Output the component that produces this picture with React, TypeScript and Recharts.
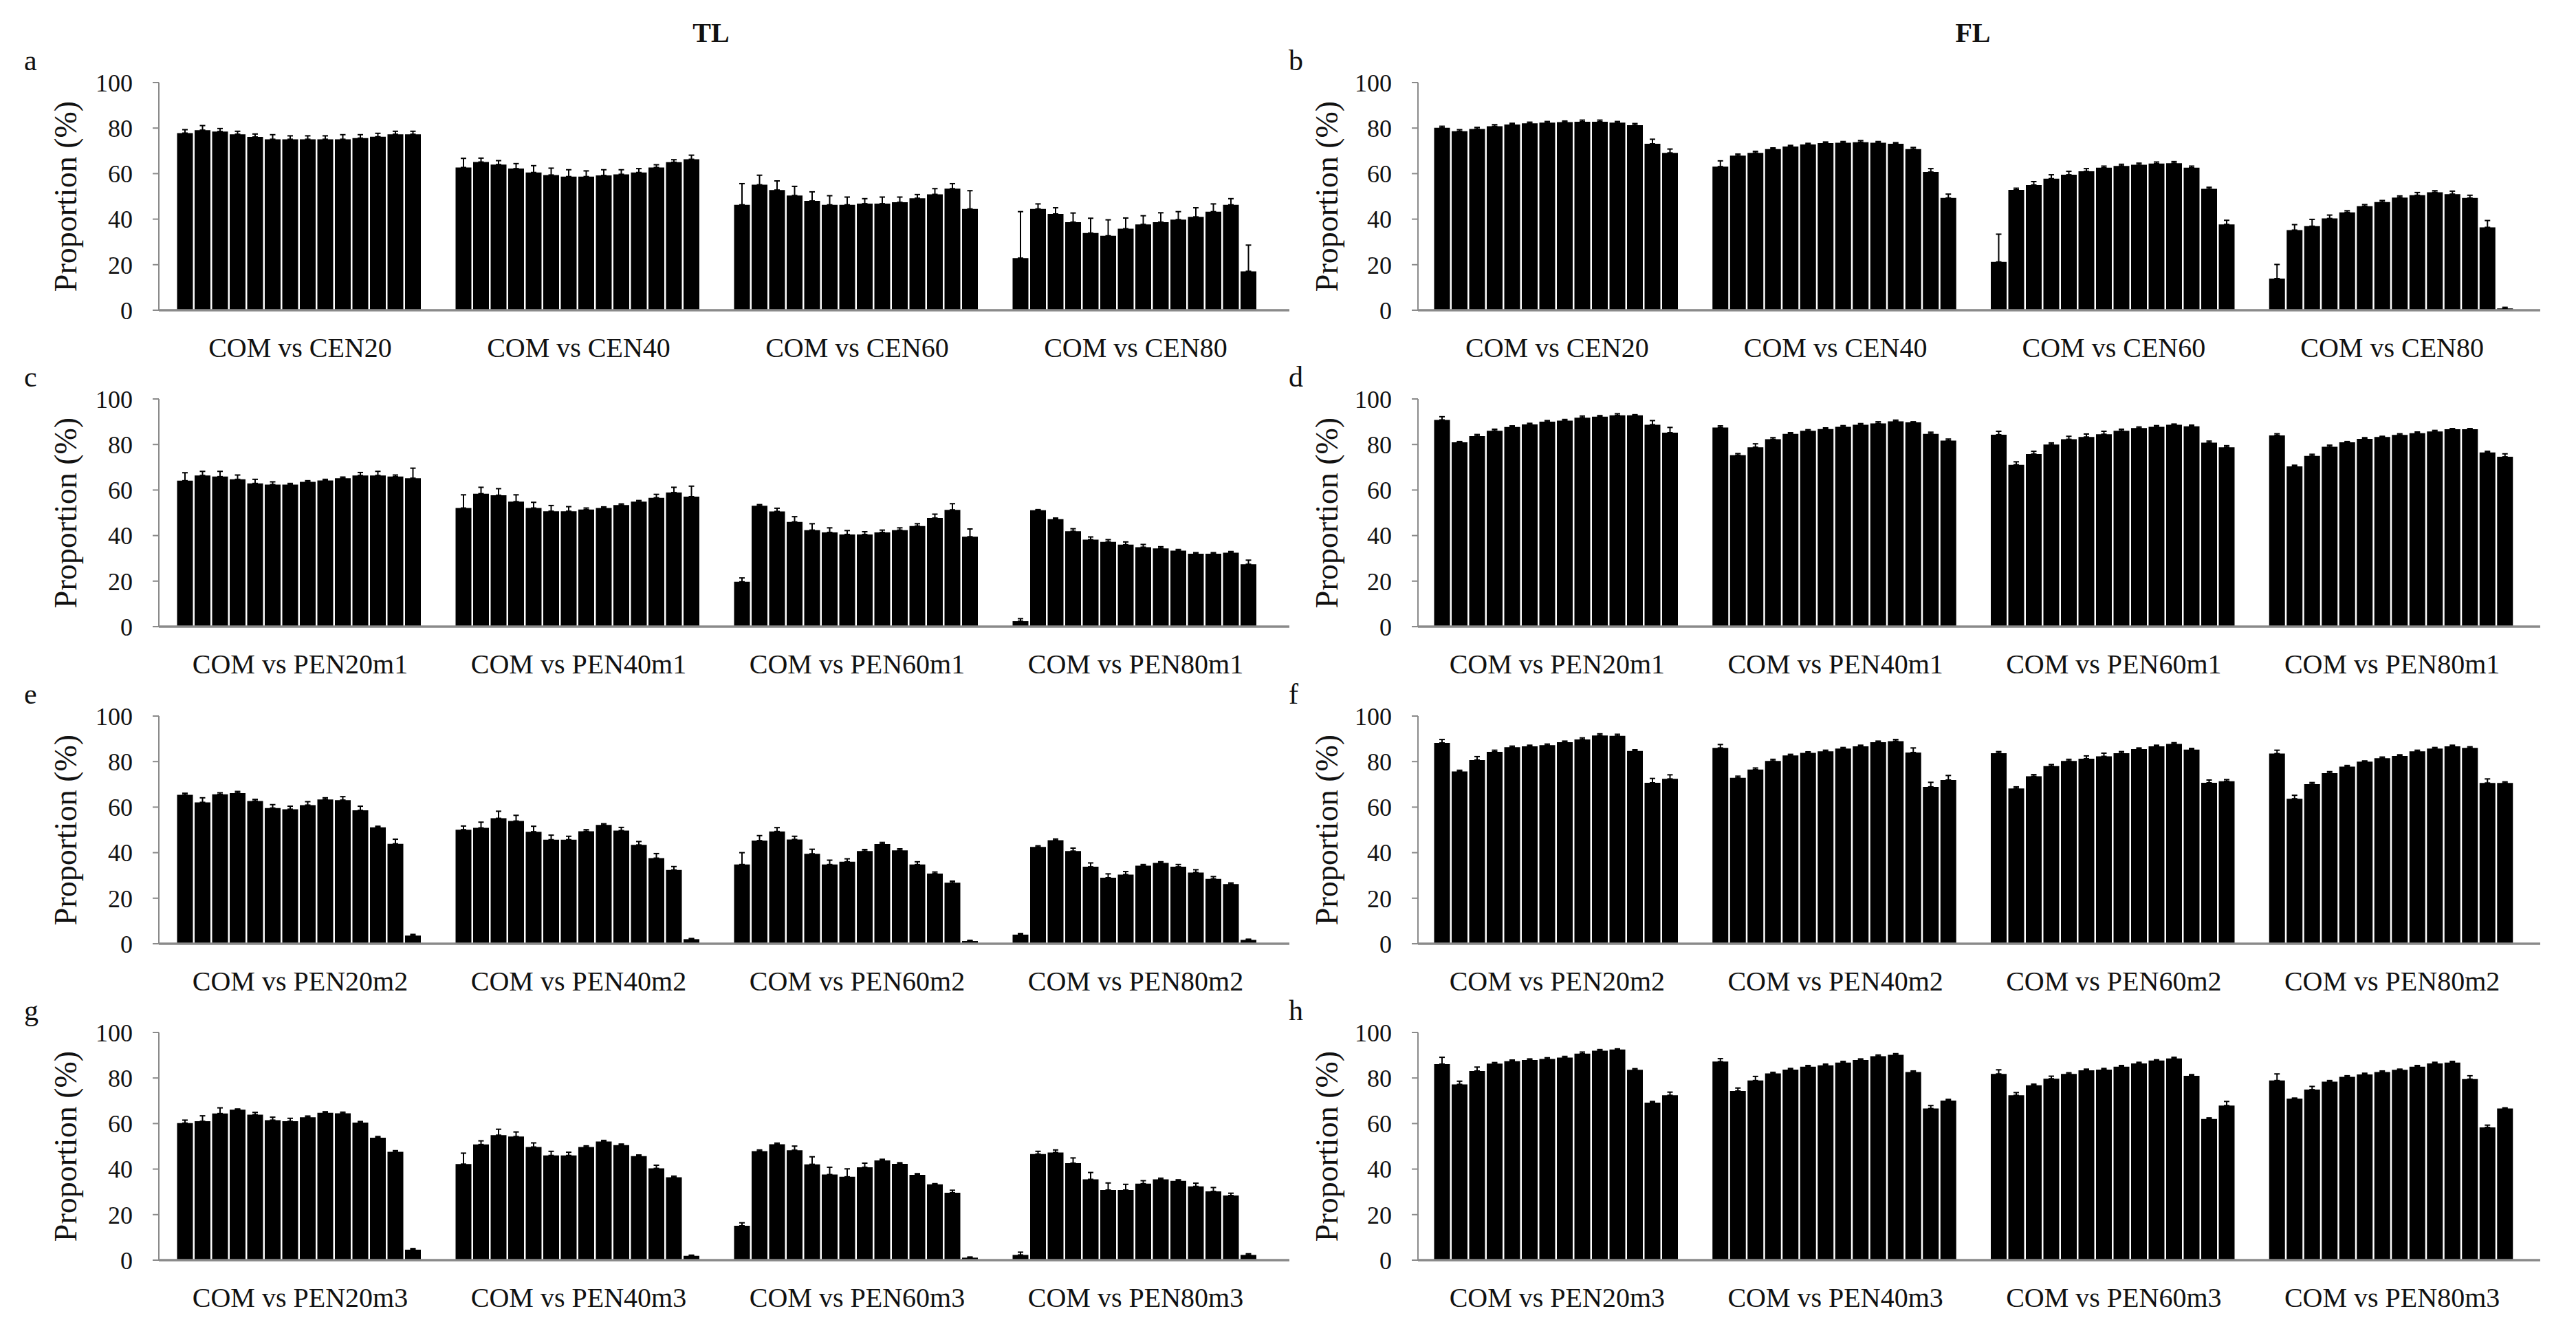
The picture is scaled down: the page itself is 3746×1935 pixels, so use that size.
import React from 'react';
import { BarChart, Bar, XAxis, YAxis, ErrorBar } from 'recharts';

// ---- category labels ----
const cenGroups = ['COM vs CEN20', 'COM vs CEN40', 'COM vs CEN60', 'COM vs CEN80'];
const m1Groups = ['COM vs PEN20m1', 'COM vs PEN40m1', 'COM vs PEN60m1', 'COM vs PEN80m1'];
const m2Groups = ['COM vs PEN20m2', 'COM vs PEN40m2', 'COM vs PEN60m2', 'COM vs PEN80m2'];
const m3Groups = ['COM vs PEN20m3', 'COM vs PEN40m3', 'COM vs PEN60m3', 'COM vs PEN80m3'];
const yTicks = [0, 20, 40, 60, 80, 100];

// ---- panel a (TL, CEN) ----
const aValues = [
  [77.8, 79.1, 78.5, 77.3, 76.1, 75.1, 75.1, 75.1, 75.1, 75.1, 75.6, 76.2, 77.3, 77.3],
  [62.7, 65.1, 64.0, 62.2, 60.5, 59.4, 58.7, 58.7, 59.2, 59.7, 60.5, 62.7, 65.0, 66.3],
  [46.3, 55.1, 52.8, 50.4, 48.0, 46.3, 46.3, 46.8, 46.8, 47.4, 49.2, 50.9, 53.4, 44.5],
  [22.9, 44.5, 42.3, 38.7, 33.9, 32.7, 35.8, 37.7, 38.7, 39.8, 41.0, 43.3, 46.3, 17.1],
];
const aErrors = [
  [1.5, 2, 1.3, 1.3, 1.3, 2, 1.5, 1.5, 1.5, 2, 1.5, 1.5, 1.3, 1.3],
  [4, 1.7, 1.7, 2.2, 3, 3, 3, 2.5, 2.5, 2, 1.7, 1.2, 1.1, 1.8],
  [9.3, 4.2, 4, 4, 4, 4, 3.4, 2.2, 2.9, 2.3, 1.6, 2.5, 2.2, 8],
  [20.4, 2.2, 2.7, 4, 6.5, 7, 4.7, 3.8, 4.1, 3.5, 4, 3.4, 2.7, 11.5],
];

// ---- panel b (FL, CEN) ----
const bValues = [
  [80.1, 78.6, 79.6, 80.8, 81.6, 82.1, 82.4, 82.6, 82.8, 82.8, 82.4, 81.3, 73.1, 69.1],
  [63.1, 67.9, 69.1, 70.8, 71.9, 72.8, 73.4, 73.6, 73.8, 73.6, 73.1, 70.8, 60.7, 49.3],
  [21.2, 52.9, 55.0, 57.8, 59.5, 61.0, 62.6, 63.4, 63.9, 64.4, 64.6, 62.6, 53.3, 37.7],
  [13.9, 35.2, 36.9, 40.3, 43.0, 45.7, 47.5, 49.5, 50.5, 51.8, 51.0, 49.3, 36.4, 0.8],
];
const bErrors = [
  [0.7, 0.7, 0.7, 0.7, 0.5, 0.5, 0.5, 0.5, 0.7, 0.7, 0.5, 0.7, 2, 1.7],
  [2.5, 0.7, 0.7, 0.5, 0.5, 0.5, 0.5, 0.5, 0.7, 0.5, 0.5, 0.7, 1.5, 1.7],
  [12.2, 0.7, 1.5, 1.7, 1.5, 1.2, 0.7, 0.7, 0.7, 0.7, 0.7, 0.7, 0.7, 1.8],
  [6.2, 2.4, 3, 1.5, 0.7, 0.7, 0.7, 0.7, 1.2, 0.7, 1.3, 1.2, 3, 0.5],
];

// ---- panel c (TL, m1) ----
const cValues = [
  [64.1, 66.4, 65.9, 64.7, 62.9, 62.4, 62.4, 63.6, 64.2, 65.2, 66.4, 66.4, 65.9, 65.2],
  [52.1, 58.4, 57.7, 54.9, 52.1, 50.7, 50.7, 51.4, 52.1, 53.4, 54.9, 56.6, 58.9, 57.1],
  [19.7, 53.1, 50.6, 46.0, 42.4, 41.4, 40.5, 40.5, 41.4, 42.4, 44.2, 47.7, 51.3, 39.5],
  [2.4, 51.1, 47.2, 41.9, 38.2, 37.2, 36.0, 34.9, 34.4, 33.4, 32.0, 32.0, 32.5, 27.4],
];
const cErrors = [
  [3.5, 1.8, 2.3, 1.9, 1.8, 1.2, 0.5, 0.5, 0.5, 0.5, 1.3, 1.8, 0.7, 4.4],
  [5.8, 2.8, 2.9, 3, 2.5, 2.5, 2, 0.7, 0.5, 0.5, 0.5, 1.5, 2.3, 4.6],
  [1.7, 0.5, 1.4, 2.3, 2.8, 2, 1.7, 1.2, 1, 1, 1, 1.7, 2.7, 3.4],
  [1.1, 0.3, 0.5, 1.1, 1.2, 1.0, 1.2, 1.2, 0.7, 0.5, 0.5, 0.5, 0.5, 1.8],
];

// ---- panel d (FL, m1) ----
const dValues = [
  [90.8, 81.0, 83.7, 86.0, 87.7, 88.8, 90.0, 90.5, 91.8, 92.2, 92.8, 92.8, 88.7, 85.2],
  [87.5, 75.3, 78.8, 82.3, 84.7, 86.0, 86.8, 87.8, 88.7, 89.3, 90.2, 89.7, 84.7, 81.7],
  [84.3, 71.1, 75.8, 80.0, 82.3, 83.3, 84.5, 86.0, 87.2, 87.8, 88.7, 88.0, 80.8, 78.8],
  [84.0, 70.4, 75.0, 79.0, 81.0, 82.5, 83.3, 84.2, 85.0, 85.7, 86.7, 86.7, 76.5, 74.6],
];
const dErrors = [
  [1.4, 0.3, 0.7, 0.7, 0.5, 0.5, 0.5, 0.5, 0.7, 0.5, 0.7, 0.3, 1.8, 2.3],
  [0.7, 0.7, 1.5, 0.7, 0.5, 0.5, 0.5, 0.5, 0.5, 0.7, 0.5, 0.3, 0.7, 0.7],
  [1.5, 1.3, 1.2, 0.7, 1.3, 1.3, 1.3, 0.7, 0.5, 0.5, 0.3, 0.5, 0.7, 0.7],
  [0.7, 0.5, 0.7, 0.7, 0.3, 0.5, 0.3, 0.5, 0.5, 0.5, 0.3, 0.3, 0.5, 1.3],
];

// ---- panel e (TL, m2) ----
const eValues = [
  [65.4, 62.1, 65.6, 66.2, 62.7, 59.6, 59.1, 60.9, 63.4, 63.1, 58.6, 51.1, 43.9, 3.6],
  [50.1, 50.9, 55.1, 53.9, 49.2, 45.7, 45.7, 49.4, 52.2, 49.7, 43.4, 37.6, 32.4, 2.0],
  [34.8, 45.3, 49.3, 45.8, 39.5, 34.8, 36.0, 40.7, 43.8, 41.0, 34.8, 30.8, 26.8, 1.2],
  [4.0, 42.5, 45.5, 40.7, 33.8, 29.0, 30.4, 34.3, 35.5, 33.8, 31.3, 28.5, 26.2, 1.7],
];
const eErrors = [
  [0.7, 2, 0.7, 0.7, 0.7, 1.5, 1.3, 1.5, 0.7, 1.5, 1.8, 0.5, 2, 0.5],
  [1.6, 2.5, 3.1, 2.5, 2.4, 2, 1.5, 0.7, 0.5, 1.4, 1.5, 2, 1.5, 0.3],
  [5.2, 2.2, 1.7, 1.4, 2, 1.9, 1.3, 0.7, 0.7, 0.7, 1.2, 0.7, 0.7, 0.3],
  [0.5, 0.5, 0.5, 1.3, 1.7, 1.7, 1.3, 0.5, 0.5, 1, 1.2, 1, 0.5, 0.3],
];

// ---- panel f (FL, m2) ----
const fValues = [
  [88.2, 75.7, 80.7, 84.3, 86.3, 86.7, 87.2, 88.5, 89.7, 91.5, 91.3, 84.7, 70.7, 72.4],
  [86.0, 72.9, 76.5, 80.3, 82.7, 83.8, 84.5, 85.7, 86.7, 88.5, 89.0, 84.0, 68.9, 71.9],
  [83.7, 68.2, 73.6, 78.0, 80.3, 81.3, 82.3, 83.7, 85.5, 86.7, 87.8, 85.3, 70.7, 71.4],
  [83.5, 63.7, 70.1, 74.9, 77.8, 80.0, 81.5, 82.5, 84.5, 85.7, 86.7, 86.0, 70.6, 70.6],
];
const fErrors = [
  [1.5, 0.5, 1.5, 0.7, 0.5, 0.5, 0.5, 0.5, 0.7, 0.7, 0.7, 0.5, 1.9, 1.8],
  [1.5, 0.7, 0.7, 0.7, 0.5, 0.5, 0.5, 0.5, 0.5, 0.5, 0.7, 2, 2, 2],
  [0.7, 0.7, 0.7, 0.7, 0.7, 1.2, 1.4, 0.7, 0.5, 0.5, 0.5, 0.5, 1.2, 0.7],
  [1.5, 1.5, 0.7, 0.7, 0.5, 0.3, 0.5, 0.5, 0.5, 0.5, 0.5, 0.5, 1.8, 0.5],
];

// ---- panel g (TL, m3) ----
const gValues = [
  [60.2, 61.0, 64.4, 66.1, 63.9, 61.5, 61.0, 62.8, 64.7, 64.5, 60.4, 53.8, 47.6, 4.6],
  [42.2, 50.8, 54.9, 54.3, 49.7, 46.0, 46.0, 49.7, 52.1, 50.5, 45.7, 40.3, 36.4, 1.9],
  [15.1, 47.9, 50.9, 48.3, 42.1, 37.6, 36.6, 40.8, 43.8, 42.3, 37.5, 33.3, 29.6, 1.1],
  [2.3, 46.6, 47.3, 42.6, 35.5, 30.8, 30.8, 33.6, 35.5, 34.8, 32.4, 30.2, 28.4, 2.3],
];
const gErrors = [
  [1.3, 2.4, 2.5, 0.3, 1, 1.3, 1.3, 0.5, 0.5, 0.5, 0.5, 0.5, 0.5, 0.5],
  [4.8, 1.6, 2.6, 2, 1.8, 1.8, 1.4, 0.5, 0.5, 0.5, 0.5, 1.4, 0.5, 0.3],
  [1.3, 0.5, 0.5, 1.8, 3.3, 3.2, 3.5, 1.8, 0.5, 0.5, 0.5, 0.3, 1.1, 0.3],
  [1.2, 1.2, 1.1, 2.3, 3, 3.1, 2.5, 1.3, 0.5, 0.5, 1.4, 1.7, 1, 0.5],
];

// ---- panel h (FL, m3) ----
const hValues = [
  [86.1, 77.2, 83.1, 86.3, 87.4, 87.9, 88.4, 89.0, 90.7, 92.0, 92.5, 83.6, 69.2, 72.4],
  [87.2, 74.3, 78.9, 82.0, 83.7, 85.0, 85.6, 86.8, 87.9, 89.6, 90.2, 82.6, 66.6, 70.1],
  [81.8, 72.4, 76.8, 79.7, 81.8, 83.4, 83.7, 85.0, 86.4, 87.7, 88.6, 81.0, 62.0, 67.9],
  [78.9, 70.9, 74.9, 78.4, 80.5, 81.6, 82.6, 83.6, 85.0, 86.4, 86.8, 79.5, 58.3, 66.6],
];
const hErrors = [
  [3, 1.4, 1.7, 0.5, 0.5, 0.5, 0.5, 0.5, 0.7, 0.5, 0.3, 0.5, 0.5, 1.4],
  [1.3, 1.3, 1.8, 0.5, 0.5, 0.5, 0.5, 0.5, 0.5, 0.5, 0.5, 0.5, 1.3, 0.5],
  [1.8, 1.2, 0.5, 1.1, 0.5, 0.5, 0.5, 0.5, 0.5, 0.3, 0.5, 0.5, 0.5, 1.8],
  [2.9, 0.3, 1.4, 0.5, 0.5, 0.5, 0.5, 0.3, 0.5, 0.5, 0.5, 1.5, 1, 0.3],
];

const FONT = 'Liberation Serif';
const AXIS_GREY = '#8a8a8a';

function buildData(groups: string[], values: number[][], errors: number[][]) {
  return groups.map((name, gi) => {
    const row: any = { name };
    values[gi].forEach((v, i) => {
      row['v' + i] = v;
      row['e' + i] = [0, errors[gi][i]];
    });
    return row;
  });
}

type PanelProps = {
  left: number;
  top: number;
  width: number;
  yAxisWidth: number;
  padLeft: number;
  padRight: number;
  labelX: number;
  groups: string[];
  values: number[][];
  errors: number[][];
};

const PLOT_TOP = 20;
const PLOT_H = 331;
const XAXIS_H = 80;

function Panel(p: PanelProps) {
  const data = buildData(p.groups, p.values, p.errors);
  const n = p.values[0].length;
  const keys = p.values[0].map((_, i) => i);
  return (
    <div style={{ position: 'absolute', left: p.left, top: p.top }}>
      <BarChart
        width={p.width}
        height={PLOT_TOP + PLOT_H + XAXIS_H}
        data={data}
        margin={{ top: PLOT_TOP, right: 0, bottom: 0, left: 0 }}
        barCategoryGap={23.5}
        barGap={2.5}
      >
        <XAxis
          dataKey="name"
          type="category"
          interval={0}
          tickLine={false}
          tickSize={0}
          tickMargin={40}
          height={XAXIS_H}
          padding={{ left: p.padLeft, right: p.padRight }}
          axisLine={{ stroke: AXIS_GREY, strokeWidth: 3.5 }}
          tick={{ fontSize: 40, fill: '#111', fontFamily: FONT }}
        />
        <YAxis
          type="number"
          domain={[0, 100]}
          ticks={yTicks}
          interval={0}
          width={p.yAxisWidth}
          tickSize={9}
          tickMargin={29}
          axisLine={{ stroke: AXIS_GREY, strokeWidth: 2 }}
          tickLine={{ stroke: AXIS_GREY, strokeWidth: 2 }}
          tick={{ fontSize: 36, fill: '#111', fontFamily: FONT }}
          label={{
            value: 'Proportion (%)',
            angle: -90,
            position: 'insideLeft',
            offset: p.labelX,
            style: { textAnchor: 'middle', fontSize: 46, fill: '#111', fontFamily: FONT },
          }}
        />
        {keys.map((i) => (
          <Bar key={i} dataKey={'v' + i} fill="#000" isAnimationActive={false}>
            <ErrorBar dataKey={'e' + i} width={4} stroke="#000" strokeWidth={2} direction="y" />
          </Bar>
        ))}
      </BarChart>
    </div>
  );
}

const rowTops = [120, 580, 1041, 1501];

export default function App() {
  const leftCol = { left: 0, width: 1875, yAxisWidth: 231, padLeft: 3, padRight: 21, labelX: 95 };
  const rightCol = { left: 1880, width: 1814, yAxisWidth: 182, padLeft: 0, padRight: 13, labelX: 49 };
  const panels = [
    { col: leftCol, row: 0, groups: cenGroups, values: aValues, errors: aErrors, letter: 'a' },
    { col: rightCol, row: 0, groups: cenGroups, values: bValues, errors: bErrors, letter: 'b' },
    { col: leftCol, row: 1, groups: m1Groups, values: cValues, errors: cErrors, letter: 'c' },
    { col: rightCol, row: 1, groups: m1Groups, values: dValues, errors: dErrors, letter: 'd' },
    { col: leftCol, row: 2, groups: m2Groups, values: eValues, errors: eErrors, letter: 'e' },
    { col: rightCol, row: 2, groups: m2Groups, values: fValues, errors: fErrors, letter: 'f' },
    { col: leftCol, row: 3, groups: m3Groups, values: gValues, errors: gErrors, letter: 'g' },
    { col: rightCol, row: 3, groups: m3Groups, values: hValues, errors: hErrors, letter: 'h' },
  ];
  return (
    <div
      style={{
        position: 'absolute',
        left: 0,
        top: 0,
        width: 3746,
        height: 1935,
        background: '#fff',
        fontFamily: FONT,
        overflow: 'hidden',
      }}
    >
      {panels.map((pn) => (
        <Panel
          key={pn.letter}
          left={pn.col.left}
          top={rowTops[pn.row] - PLOT_TOP}
          width={pn.col.width}
          yAxisWidth={pn.col.yAxisWidth}
          padLeft={pn.col.padLeft}
          padRight={pn.col.padRight}
          labelX={pn.col.labelX}
          groups={pn.groups}
          values={pn.values}
          errors={pn.errors}
        />
      ))}
      <svg
        width={3746}
        height={1935}
        style={{ position: 'absolute', left: 0, top: 0, pointerEvents: 'none' }}
      >
        <text x={1034} y={61} textAnchor="middle" fontSize={40} fontWeight="bold" fontFamily={FONT} fill="#111">
          TL
        </text>
        <text x={2869} y={61} textAnchor="middle" fontSize={40} fontWeight="bold" fontFamily={FONT} fill="#111">
          FL
        </text>
        {panels.map((pn) => (
          <text
            key={'l' + pn.letter}
            x={pn.col.left === 0 ? 35 : 1874}
            y={rowTops[pn.row] - 18}
            fontSize={42}
            fontFamily={FONT}
            fill="#111"
          >
            {pn.letter}
          </text>
        ))}
      </svg>
    </div>
  );
}
